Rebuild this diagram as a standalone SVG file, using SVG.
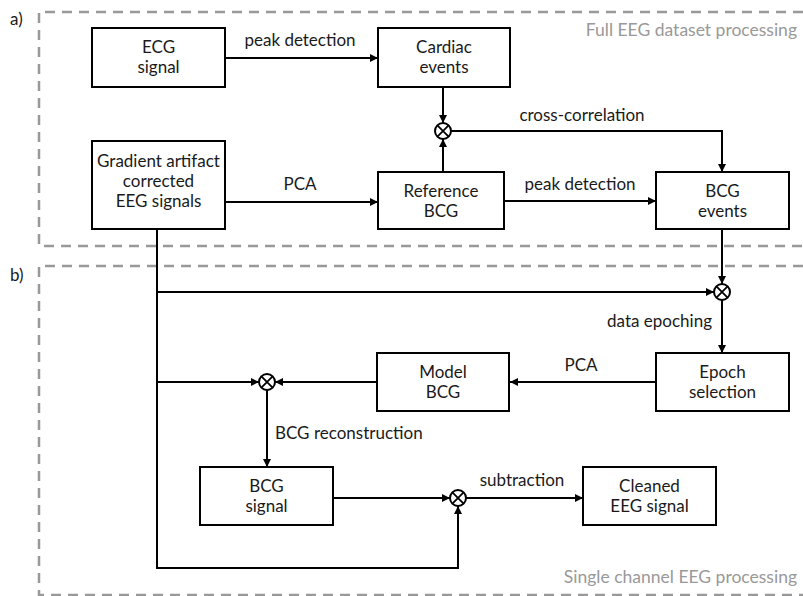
<svg xmlns="http://www.w3.org/2000/svg" width="803" height="596" viewBox="0 0 803 596">
<defs>
<style>
.box{fill:#fff;stroke:#000;stroke-width:2}
.ln{fill:none;stroke:#000;stroke-width:2}
.dash{fill:none;stroke:#999;stroke-width:2.5;stroke-dasharray:10 7}
text{font-family:Lato,"Open Sans","Liberation Sans",sans-serif;font-size:17px;fill:#1a1a1a}
.c{text-anchor:middle}
.g{fill:#999;text-anchor:end;font-size:17.5px}
.x{fill:#fff;stroke:#000;stroke-width:2}
</style>
<marker id="ah" viewBox="0 0 10 10" refX="10" refY="5" markerWidth="8" markerHeight="8" markerUnits="userSpaceOnUse" orient="auto"><path d="M0,0L10,5L0,10z" fill="#000"/></marker>
<g id="xs"><circle r="8" class="x"/><path d="M-5.6,-5.6L5.6,5.6M-5.6,5.6L5.6,-5.6" stroke="#000" stroke-width="1.8"/></g>
</defs>
<rect width="803" height="596" fill="#fff"/>
<g id="panels">
<path class="dash" d="M803,12H39V246H803"/>
<path class="dash" d="M803,266H39V595H803"/>
<text x="10" y="25">a)</text>
<text x="10" y="281">b)</text>
<text class="g" x="797" y="36">Full EEG dataset processing</text>
<text class="g" x="797" y="583">Single channel EEG processing</text>
</g>
<g id="connectors">
<path class="ln" d="M225,58H378" marker-end="url(#ah)"/>
<path class="ln" d="M225,202H378" marker-end="url(#ah)"/>
<path class="ln" d="M443,87V123" marker-end="url(#ah)"/>
<path class="ln" d="M443,172V139" marker-end="url(#ah)"/>
<path class="ln" d="M451,131H722V172" marker-end="url(#ah)"/>
<path class="ln" d="M504,201H656" marker-end="url(#ah)"/>
<path class="ln" d="M722,229V284" marker-end="url(#ah)"/>
<path class="ln" d="M157,229V568H458V506" marker-end="url(#ah)"/>
<path class="ln" d="M157,292H714" marker-end="url(#ah)"/>
<path class="ln" d="M722,300V353" marker-end="url(#ah)"/>
<path class="ln" d="M656,382H510" marker-end="url(#ah)"/>
<path class="ln" d="M157,382H259" marker-end="url(#ah)"/>
<path class="ln" d="M377,382H275" marker-end="url(#ah)"/>
<path class="ln" d="M267,390V467" marker-end="url(#ah)"/>
<path class="ln" d="M333,498H450" marker-end="url(#ah)"/>
<path class="ln" d="M466,498H583" marker-end="url(#ah)"/>
<use href="#xs" x="443" y="131"/>
<use href="#xs" x="722" y="292"/>
<use href="#xs" x="267" y="382"/>
<use href="#xs" x="458" y="498"/>
<text class="c" x="300" y="46">peak detection</text>
<text class="c" x="300" y="190">PCA</text>
<text class="c" x="582" y="121">cross-correlation</text>
<text class="c" x="580" y="190">peak detection</text>
<text x="712" y="327" text-anchor="end">data epoching</text>
<text class="c" x="581" y="371">PCA</text>
<text x="275" y="439">BCG reconstruction</text>
<text class="c" x="522" y="486">subtraction</text>
</g>
<g id="ecg"><rect class="box" x="92" y="28" width="133" height="59"/><text class="c" x="158.5" y="53">ECG</text><text class="c" x="158.5" y="73">signal</text></g>
<g id="gradient"><rect class="box" x="92" y="141" width="133" height="88"/><text class="c" x="158.5" y="167">Gradient artifact</text><text class="c" x="158.5" y="187">corrected</text><text class="c" x="158.5" y="207">EEG signals</text></g>
<g id="cardiac"><rect class="box" x="378" y="28" width="132" height="59"/><text class="c" x="444" y="53">Cardiac</text><text class="c" x="444" y="73">events</text></g>
<g id="refbcg"><rect class="box" x="378" y="172" width="126" height="57"/><text class="c" x="441" y="197">Reference</text><text class="c" x="441" y="217">BCG</text></g>
<g id="bcgevents"><rect class="box" x="656" y="172" width="133" height="57"/><text class="c" x="722.5" y="197">BCG</text><text class="c" x="722.5" y="217">events</text></g>
<g id="epoch"><rect class="box" x="656" y="353" width="133" height="58"/><text class="c" x="722.5" y="378">Epoch</text><text class="c" x="722.5" y="398">selection</text></g>
<g id="model"><rect class="box" x="377" y="353" width="132" height="58"/><text class="c" x="443" y="378">Model</text><text class="c" x="443" y="398">BCG</text></g>
<g id="bcgsignal"><rect class="box" x="200" y="467" width="133" height="58"/><text class="c" x="266.5" y="492">BCG</text><text class="c" x="266.5" y="512">signal</text></g>
<g id="cleaned"><rect class="box" x="583" y="467" width="133" height="58"/><text class="c" x="649.5" y="492">Cleaned</text><text class="c" x="649.5" y="512">EEG signal</text></g>
</svg>
